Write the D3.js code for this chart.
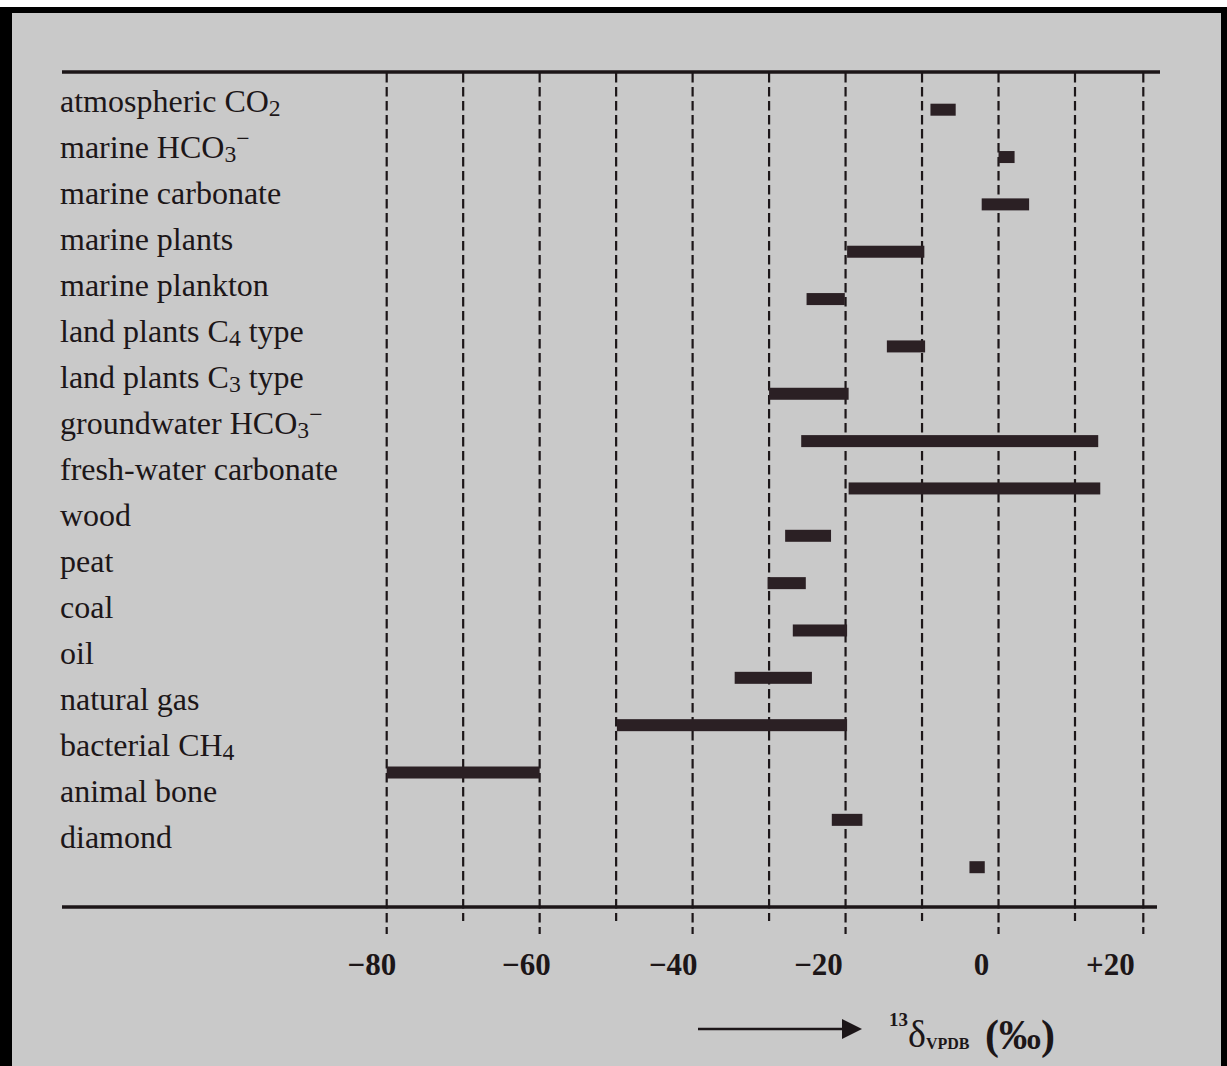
<!DOCTYPE html>
<html>
<head>
<meta charset="utf-8">
<script src="https://cdn.jsdelivr.net/npm/d3@7"></script>
<style>
  body { margin: 0; background: #fff; }
  svg { display: block; }
</style>
</head>
<body>
<div id="chart"></div>
<script>
"use strict";

// _x = subscript, ^x = superscript
const categories = [
  "atmospheric CO_2",
  "marine HCO_3^−",
  "marine carbonate",
  "marine plants",
  "marine plankton",
  "land plants C_4 type",
  "land plants C_3 type",
  "groundwater HCO_3^−",
  "fresh-water carbonate",
  "wood",
  "peat",
  "coal",
  "oil",
  "natural gas",
  "bacterial CH_4",
  "animal bone",
  "diamond",
];

// range of 13-delta values, per mil
const lows = [-8.9, 0, -2.2, -19.8, -25.1, -14.6, -30, -25.8, -19.6, -27.9, -30.2, -26.9, -34.5, -49.9, -80, -21.8, -3.8];
const highs = [-5.6, 2.1, 4, -9.7, -20.1, -9.6, -19.6, 13.4, 13.7, -21.9, -25.2, -19.8, -24.4, -19.8, -60, -17.8, -1.8];

const gridValues = [-80, -70, -60, -50, -40, -30, -20, -10, 0, 10, 20];
const majorValues = [-80, -60, -40, -20, 0, 20];

// tick labels, and where they sit on the printed axis
const tickLabels = ["−80", "−60", "−40", "−20", "0", "+20"];
const tickLabelAt = [-82, -61.8, -42.6, -23.6, -2.3, 15.1];

const W = 1227;
const H = 1066;
const topRule = 72;
const bottomRule = 907;
const ink = "#1c1618";
const barColor = "#2b2024";
const serif = "'Liberation Serif', 'Times New Roman', serif";

const svg = d3
  .select("#chart")
  .append("svg")
  .attr("width", W)
  .attr("height", H);

// scanned page frame
svg.append("rect").attr("width", W).attr("height", H).attr("fill", "#fff");
svg.append("rect").attr("x", 0).attr("y", 7).attr("width", W).attr("height", H).attr("fill", "#000");
svg.append("rect").attr("x", 12).attr("y", 13).attr("width", W - 18).attr("height", H).attr("fill", "#c9c9c9");

// printed scale: the last grid interval is a bit narrower on the page
const x = d3.scaleLinear().domain([-80, 10, 20]).range([386.7, 1075, 1143.3]);

const yBar = d3.scalePoint().domain(categories).range([109.7, 867.2]);
const yLabel = d3.scalePoint().domain(categories).range([111.7, 848.3]);

// grid lines
svg
  .append("g")
  .selectAll("line")
  .data(gridValues)
  .enter()
  .append("line")
  .attr("x1", (d) => x(d))
  .attr("x2", (d) => x(d))
  .attr("y1", topRule + 1)
  .attr("y2", (d) => (majorValues.includes(d) ? bottomRule + 27 : bottomRule + 14))
  .attr("stroke", ink)
  .attr("stroke-width", 2.2)
  .attr("stroke-dasharray", "9.5,4.5");

// horizontal rules
svg.append("line").attr("x1", 62).attr("x2", 1160).attr("y1", topRule).attr("y2", topRule)
  .attr("stroke", ink).attr("stroke-width", 3.5);
svg.append("line").attr("x1", 62).attr("x2", 1157).attr("y1", bottomRule).attr("y2", bottomRule)
  .attr("stroke", ink).attr("stroke-width", 3.5);

// range bars
const barH = 12;
svg
  .append("g")
  .selectAll("rect")
  .data(categories)
  .enter()
  .append("rect")
  .attr("x", (d, i) => x(lows[i]))
  .attr("width", (d, i) => x(highs[i]) - x(lows[i]))
  .attr("y", (d) => yBar(d) - barH / 2)
  .attr("height", barH)
  .attr("fill", barColor);

// category labels with sub/superscripts
function writeLabel(text, s) {
  let shift = 0;
  s.split(/(_.|\^.)/)
    .filter((p) => p)
    .forEach((p) => {
      let target = 0;
      let str = p;
      let small = false;
      if (p[0] === "_") {
        target = 4;
        str = p.slice(1);
        small = true;
      } else if (p[0] === "^") {
        target = -12;
        str = p.slice(1);
        small = true;
      }
      const t = text.append("tspan").attr("dy", target - shift).text(str);
      if (small) t.attr("font-size", "0.74em");
      shift = target;
    });
}

svg
  .append("g")
  .attr("font-family", serif)
  .attr("font-size", 32)
  .attr("fill", ink)
  .selectAll("text")
  .data(categories)
  .enter()
  .append("text")
  .attr("x", 60)
  .attr("y", (d) => yLabel(d))
  .each(function (d) {
    writeLabel(d3.select(this), d);
  });

// tick labels
const axis = d3
  .axisBottom(x)
  .tickValues(tickLabelAt)
  .tickFormat((d, i) => tickLabels[i])
  .tickSize(0)
  .tickPadding(0);

const gAxis = svg.append("g").attr("transform", "translate(0,975)").call(axis);
gAxis.select(".domain").remove();
gAxis
  .selectAll("text")
  .attr("dy", 0)
  .attr("fill", ink)
  .attr("font-family", serif)
  .attr("font-weight", "bold")
  .attr("font-size", 31);

// arrow
svg.append("line").attr("x1", 698).attr("x2", 846).attr("y1", 1029).attr("y2", 1029)
  .attr("stroke", ink).attr("stroke-width", 2.5);
svg.append("path").attr("d", "M842,1019 L862,1029 L842,1039 Z").attr("fill", ink);

// axis title: 13 delta VPDB (per mil)
const title = svg
  .append("text")
  .attr("x", 889)
  .attr("y", 1047)
  .attr("fill", ink)
  .attr("font-family", serif);
title.append("tspan").attr("font-size", 19).attr("font-weight", "bold").attr("dy", -21).text("13");
title.append("tspan").attr("font-size", 38).attr("dy", 21).text("δ");
title.append("tspan").attr("font-size", 16).attr("font-weight", "bold").attr("dy", 2).text("VPDB");
title.append("tspan").attr("font-size", 42).attr("font-weight", "bold").attr("dy", 0).attr("x", 985).text("(‰)");
</script>
</body>
</html>
